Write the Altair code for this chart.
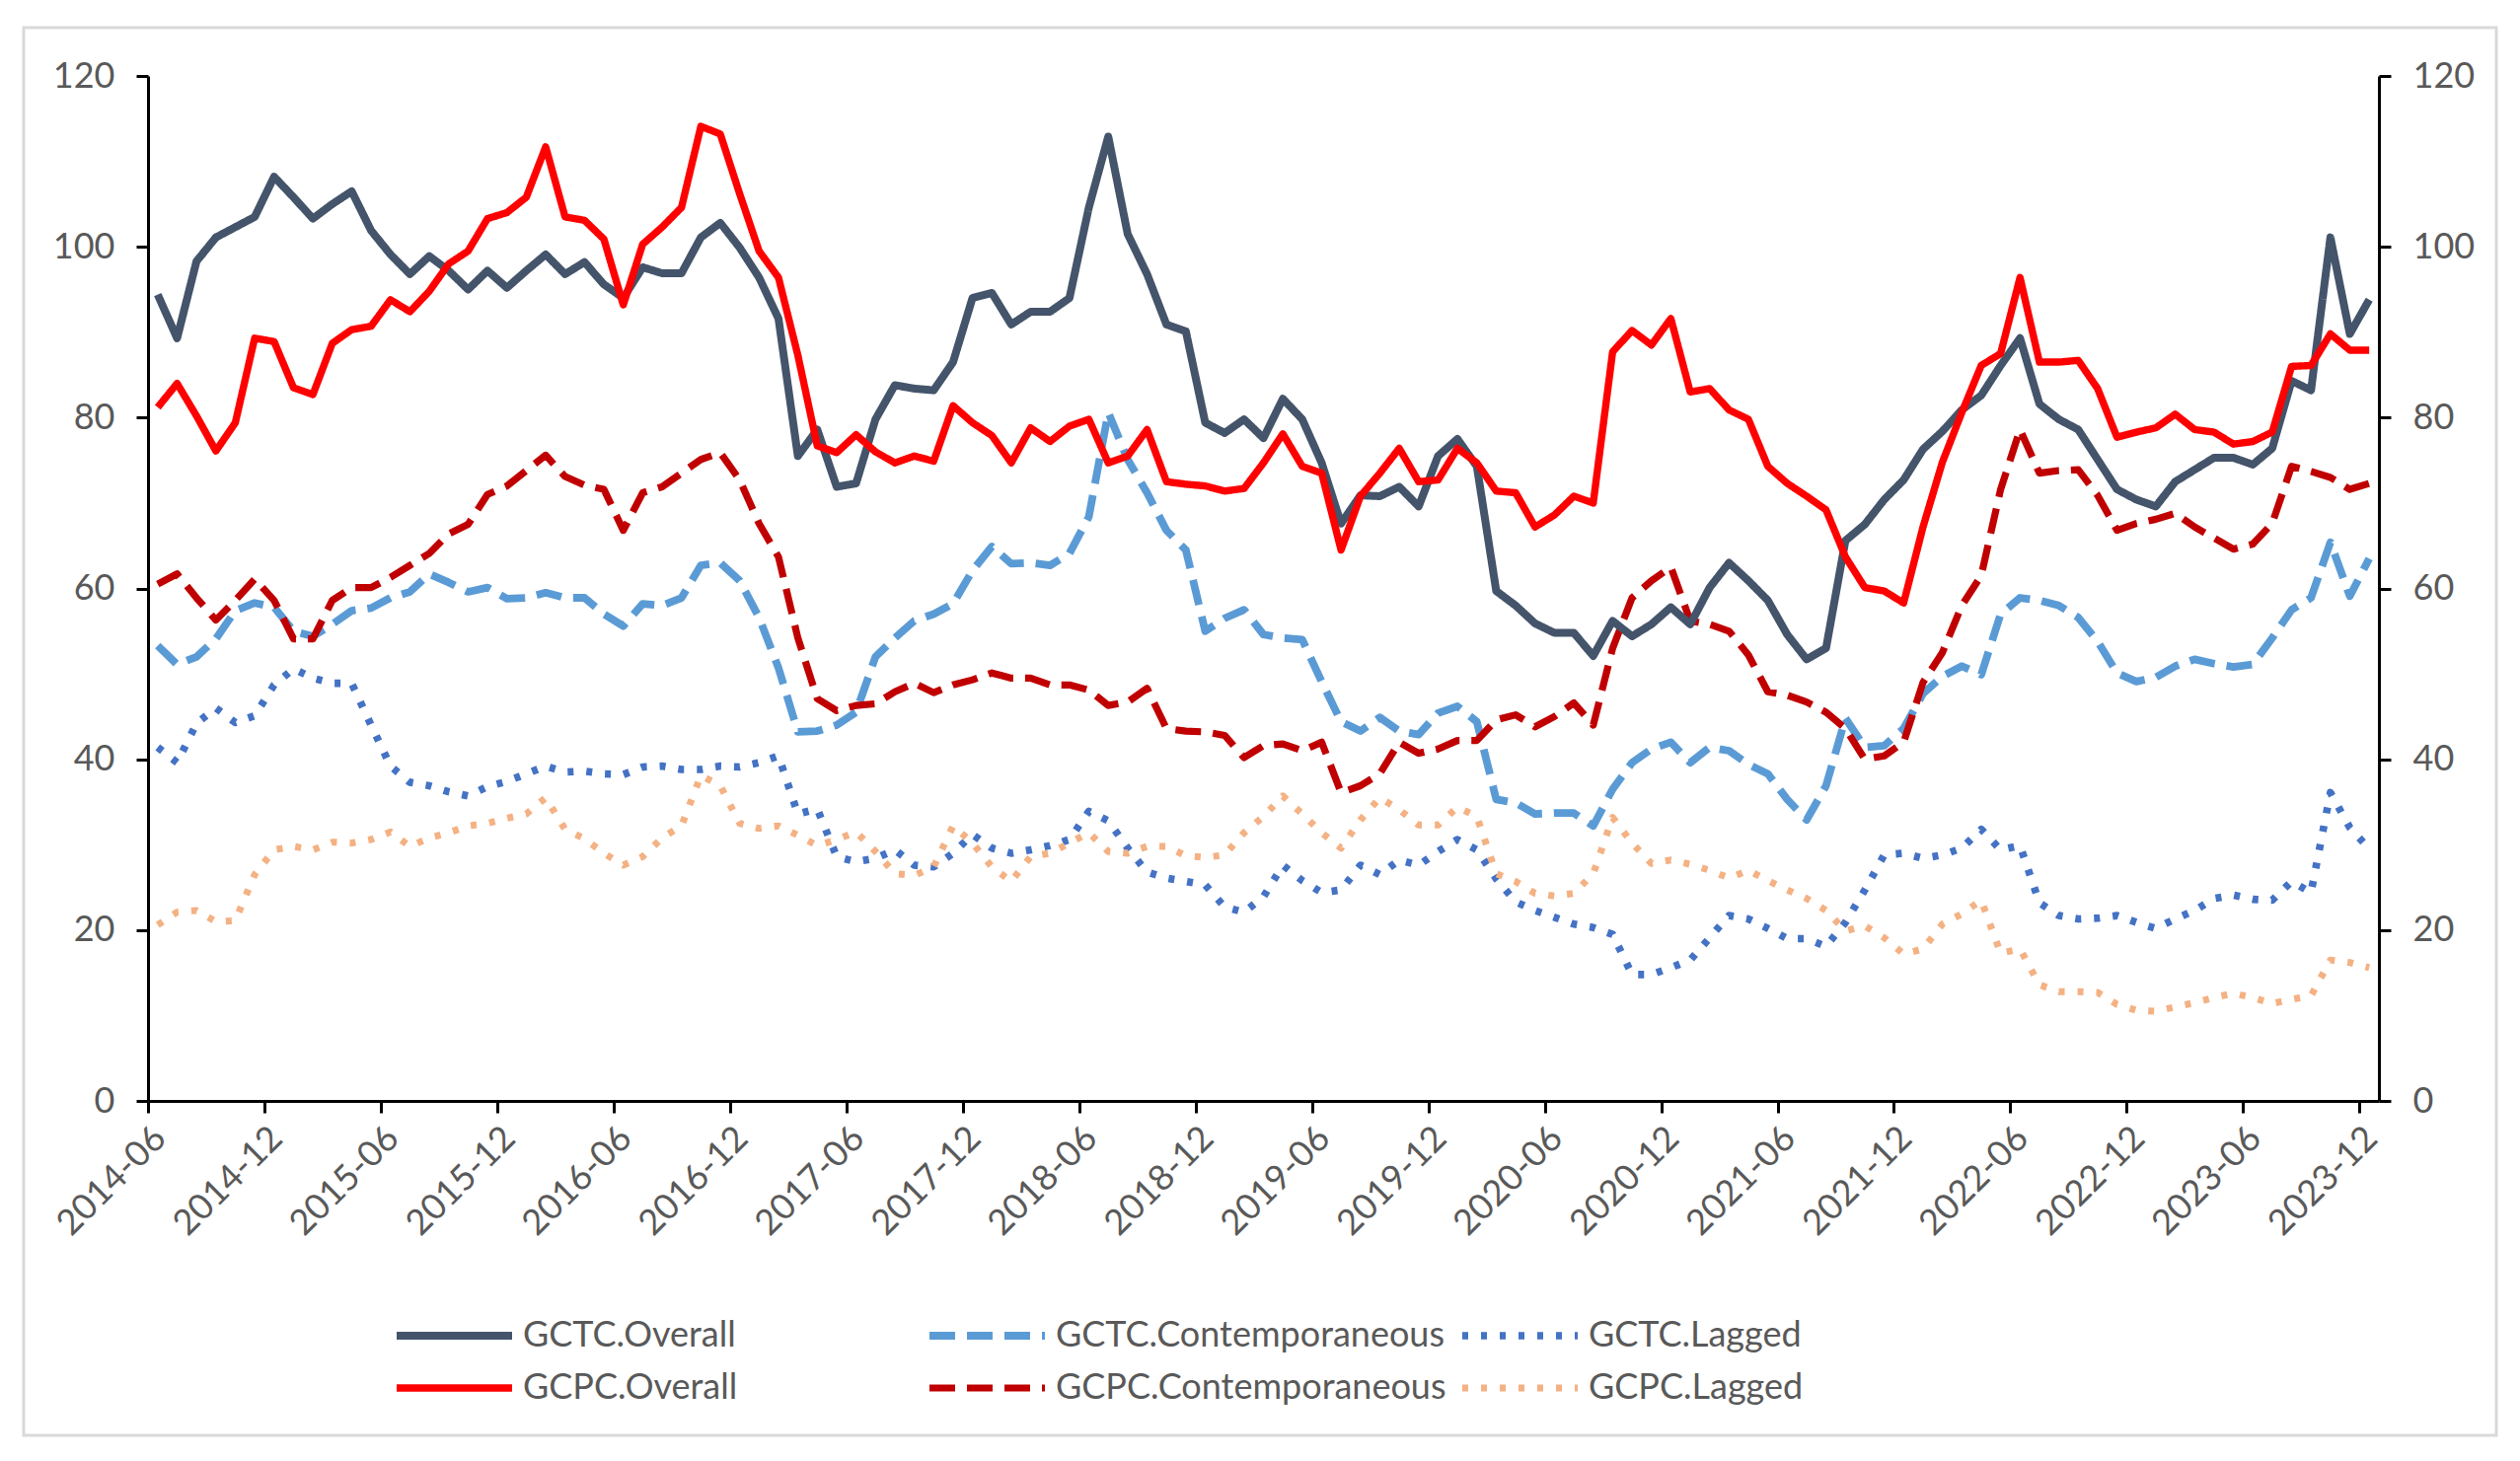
import json
import altair as alt
import pandas as pd

# ---------------- data ----------------
tick_labels = ["2014-06", "2014-12", "2015-06", "2015-12", "2016-06", "2016-12",
               "2017-06", "2017-12", "2018-06", "2018-12", "2019-06", "2019-12",
               "2020-06", "2020-12", "2021-06", "2021-12", "2022-06", "2022-12",
               "2023-06", "2023-12"]
months = pd.period_range("2014-06", "2023-12", freq="M").strftime("%Y-%m").tolist()

gctc_overall = [94.4, 89.3, 98.3, 101.1, 102.3, 103.5, 108.2, 105.8, 103.3, 105.0,
                106.5, 101.9, 99.1, 96.8, 98.9, 97.2, 95.0, 97.2, 95.2, 97.2,
                99.1, 96.8, 98.2, 95.6, 94.0, 97.6, 96.9, 96.9, 101.1, 102.8,
                99.9, 96.4, 91.6, 75.5, 78.6, 71.9, 72.3, 79.8, 83.8, 83.4,
                83.2, 86.5, 94.0, 94.6, 90.9, 92.4, 92.4, 94.0, 104.6, 112.9,
                101.5, 96.8, 90.9, 90.1, 79.4, 78.2, 79.8, 77.6, 82.2, 79.8,
                74.7, 67.6, 70.9, 70.8, 71.9, 69.6, 75.5, 77.5, 74.3, 59.7,
                58.0, 55.9, 54.8, 54.8, 52.1, 56.2, 54.4, 55.8, 57.8, 55.8,
                60.1, 63.0, 60.9, 58.6, 54.6, 51.7, 53.0, 65.6, 67.5, 70.4,
                72.7, 76.3, 78.4, 80.9, 82.6, 86.1, 89.3, 81.6, 79.8, 78.6,
                75.1, 71.6, 70.4, 69.6, 72.5, 73.9, 75.3, 75.3, 74.5, 76.4,
                84.3, 83.2, 101.1, 89.8, 93.8]

gcpc_overall = [81.2, 84.0, 80.2, 76.1, 79.4, 89.3, 88.9, 83.5, 82.7, 88.7,
                90.3, 90.7, 93.8, 92.4, 94.8, 98.0, 99.5, 103.3, 104.0, 105.8,
                111.7, 103.5, 103.1, 100.9, 93.2, 100.3, 102.3, 104.6, 114.1, 113.2,
                106.2, 99.5, 96.4, 87.3, 76.7, 75.9, 78.0, 76.0, 74.7, 75.5,
                74.9, 81.4, 79.4, 77.9, 74.7, 78.8, 77.2, 79.0, 79.8, 74.7,
                75.5, 78.6, 72.5, 72.2, 72.0, 71.4, 71.7, 74.7, 78.1, 74.3,
                73.5, 64.5, 70.8, 73.5, 76.4, 72.5, 72.7, 76.4, 74.7, 71.4,
                71.2, 67.2, 68.6, 70.8, 70.0, 87.7, 90.2, 88.5, 91.6, 83.0,
                83.4, 80.9, 79.8, 74.3, 72.3, 70.8, 69.2, 63.7, 60.1, 59.7,
                58.3, 67.2, 74.8, 80.6, 86.1, 87.5, 96.4, 86.5, 86.5, 86.7,
                83.4, 77.7, 78.3, 78.8, 80.4, 78.6, 78.3, 76.9, 77.2, 78.3,
                86.0, 86.1, 89.8, 87.9, 87.9]

gctc_contemp = [53.3, 51.1, 52.0, 54.1, 57.4, 58.3, 57.8, 55.0, 54.4, 55.8,
                57.4, 57.7, 58.9, 59.6, 61.7, 60.7, 59.6, 60.1, 58.8, 58.9,
                59.5, 58.9, 58.9, 57.0, 55.6, 58.2, 58.0, 58.9, 62.7, 63.0,
                60.9, 56.6, 50.7, 43.2, 43.3, 44.0, 45.5, 52.0, 54.2, 56.2,
                57.0, 58.2, 62.1, 64.9, 62.9, 63.0, 62.7, 64.1, 68.4, 80.6,
                75.1, 71.2, 66.8, 64.5, 55.0, 56.5, 57.5, 54.6, 54.2, 54.0,
                49.1, 44.4, 43.3, 44.9, 43.3, 42.9, 45.4, 46.2, 44.4, 35.3,
                34.9, 33.6, 33.7, 33.7, 32.2, 36.5, 39.6, 41.2, 42.0, 39.6,
                41.4, 41.0, 39.4, 38.3, 35.3, 32.9, 36.9, 44.8, 41.4, 41.6,
                43.6, 47.7, 49.7, 50.9, 49.9, 57.0, 58.9, 58.6, 58.0, 56.6,
                53.8, 50.1, 49.1, 49.6, 50.9, 51.7, 51.2, 50.8, 51.1, 54.2,
                57.5, 58.9, 65.4, 59.1, 63.5]

gcpc_contemp = [60.5, 61.7, 58.9, 56.3, 58.6, 61.1, 58.6, 54.1, 54.1, 58.6,
                60.1, 60.1, 61.3, 62.7, 64.1, 66.4, 67.5, 71.0, 72.0, 73.8,
                75.6, 73.1, 72.1, 71.6, 66.8, 71.2, 71.9, 73.5, 75.1, 75.9,
                72.7, 67.6, 63.7, 54.2, 47.1, 45.7, 46.3, 46.5, 47.9, 48.9,
                47.8, 48.7, 49.3, 50.1, 49.5, 49.5, 48.7, 48.7, 48.1, 46.3,
                46.7, 48.3, 43.6, 43.3, 43.2, 42.8, 40.2, 41.6, 41.8, 41.0,
                42.0, 36.1, 36.9, 38.3, 42.0, 40.7, 41.2, 42.2, 42.2, 44.6,
                45.2, 43.8, 45.0, 46.6, 44.0, 53.0, 58.9, 60.9, 62.5, 56.2,
                55.8, 55.0, 52.2, 47.9, 47.5, 46.7, 45.5, 43.6, 40.0, 40.4,
                42.0, 49.0, 52.5, 58.0, 61.5, 71.6, 78.6, 73.5, 73.8, 73.9,
                70.9, 66.8, 67.6, 68.1, 68.8, 67.2, 65.9, 64.6, 65.2, 67.6,
                74.3, 73.7, 73.0, 71.6, 72.3]

gctc_lagged = [41.4, 39.6, 44.2, 46.0, 44.3, 45.1, 48.7, 50.6, 49.5, 48.9,
               48.9, 44.0, 39.2, 37.3, 36.9, 36.2, 35.7, 36.8, 37.4, 38.3,
               39.2, 38.5, 38.6, 38.3, 38.2, 39.1, 39.2, 38.8, 38.8, 39.2,
               39.1, 39.6, 40.4, 33.6, 34.2, 28.6, 28.0, 28.4, 29.4, 27.6,
               27.4, 29.0, 31.2, 29.6, 29.0, 29.4, 29.9, 30.6, 33.9, 32.8,
               29.6, 26.8, 26.1, 25.7, 25.3, 22.7, 22.1, 23.9, 27.6, 25.8,
               24.4, 24.7, 27.6, 26.5, 28.2, 27.6, 29.2, 30.6, 29.4, 26.0,
               23.3, 22.3, 21.5, 20.7, 20.3, 19.5, 14.8, 14.8, 15.6, 16.5,
               19.1, 21.7, 21.3, 20.2, 19.0, 19.0, 18.1, 20.9, 24.7, 28.8,
               29.0, 28.4, 28.8, 29.6, 31.8, 29.4, 29.9, 23.2, 21.7, 21.3,
               21.4, 21.7, 20.9, 20.2, 21.3, 22.3, 23.7, 24.1, 23.6, 23.5,
               25.7, 24.4, 36.1, 32.0, 29.5]

gcpc_lagged = [20.6, 22.1, 22.3, 21.0, 21.1, 26.5, 29.4, 29.8, 29.4, 30.3,
               30.2, 30.6, 31.5, 29.8, 30.8, 31.4, 32.2, 32.5, 33.1, 33.6,
               35.5, 31.8, 30.7, 29.0, 27.6, 28.6, 30.8, 32.2, 38.1, 36.9,
               32.5, 31.9, 32.2, 31.1, 29.9, 30.6, 31.5, 29.2, 26.6, 26.4,
               27.4, 32.2, 30.2, 27.4, 25.7, 28.6, 29.0, 30.2, 31.4, 29.2,
               29.0, 29.8, 29.8, 28.7, 28.5, 28.8, 31.4, 33.3, 35.7, 33.6,
               31.4, 29.6, 32.9, 35.5, 34.1, 32.3, 32.3, 34.4, 33.3, 26.6,
               25.7, 24.3, 24.0, 24.3, 26.6, 33.2, 30.2, 27.8, 28.2, 27.7,
               27.0, 26.1, 27.0, 25.8, 24.7, 23.7, 22.3, 19.9, 20.5, 19.1,
               17.2, 17.8, 20.7, 21.9, 23.5, 17.3, 17.8, 13.6, 12.8, 12.8,
               12.7, 11.3, 10.6, 10.5, 11.0, 11.5, 12.1, 12.6, 12.1, 11.4,
               11.9, 12.3, 16.5, 16.2, 15.6]

series_names = ["GCTC.Overall", "GCTC.Contemporaneous", "GCTC.Lagged",
                "GCPC.Overall", "GCPC.Contemporaneous", "GCPC.Lagged"]
series_colors = ["#44546A", "#5B9BD5", "#4472C4", "#FF0000", "#C00000", "#F4B183"]
series_dash = [[1, 0], [26, 12], [6, 13], [1, 0], [26, 12], [6, 13]]
series_width = [8, 7, 6, 8, 7, 6]

series_values = {
    "GCTC.Overall": gctc_overall,
    "GCTC.Contemporaneous": gctc_contemp,
    "GCTC.Lagged": gctc_lagged,
    "GCPC.Overall": gcpc_overall,
    "GCPC.Contemporaneous": gcpc_contemp,
    "GCPC.Lagged": gcpc_lagged,
}
draw_order = ["GCTC.Lagged", "GCPC.Lagged", "GCTC.Contemporaneous",
              "GCPC.Contemporaneous", "GCTC.Overall", "GCPC.Overall"]

rows = []
for name in draw_order:
    for i, v in enumerate(series_values[name]):
        rows.append({"series": name, "month": months[i], "pos": i + 0.5, "value": v})
df = pd.DataFrame(rows)

# ---------------- styling ----------------
FONT = "Lato, Liberation Sans Narrow, DejaVu Sans Condensed, sans-serif"
LABEL_COLOR = "#595959"
FS = 36

label_expr = json.dumps(tick_labels) + "[round(datum.value / 6)]"

x_enc = alt.X(
    "pos:Q",
    scale=alt.Scale(domain=[0, len(months)], nice=False, zero=False),
    axis=alt.Axis(values=list(range(0, len(months), 6)), labelExpr=label_expr,
                  labelAngle=-45, labelAlign="right", labelBaseline="top",
                  labelPadding=8, labelOverlap=False, labelFont=FONT,
                  labelFontSize=FS, labelColor=LABEL_COLOR, tickSize=12,
                  tickWidth=3, tickColor="black", domainColor="black",
                  domainWidth=3, grid=False, title=None),
)

y_scale = alt.Scale(domain=[0, 120], nice=False, zero=True)


def y_axis(orient):
    return alt.Axis(orient=orient, values=[0, 20, 40, 60, 80, 100, 120],
                    labelFont=FONT, labelFontSize=FS, labelColor=LABEL_COLOR,
                    labelPadding=22, tickSize=12, tickWidth=3, tickColor="black",
                    domainColor="black", domainWidth=3, grid=False, title=None)


legend = alt.Legend(
    title=None, orient="none", legendX=244, legendY=1259, columns=3,
    direction="horizontal", gridAlign="all", columnPadding=0, rowPadding=17,
    symbolType="M-1,0H10.7", symbolSize=400, symbolStrokeWidth=8,
    labelFont=FONT, labelFontSize=FS, labelColor=LABEL_COLOR, labelOffset=100,
    labelLimit=0, padding=0,
)

lines = alt.Chart(df).mark_line(strokeJoin="round").encode(
    x=x_enc,
    y=alt.Y("value:Q", scale=y_scale, axis=y_axis("left")),
    color=alt.Color("series:N", scale=alt.Scale(domain=series_names, range=series_colors),
                    legend=legend),
    strokeDash=alt.StrokeDash("series:N",
                              scale=alt.Scale(domain=series_names, range=series_dash)),
    strokeWidth=alt.StrokeWidth("series:N",
                                scale=alt.Scale(domain=series_names, range=series_width),
                                legend=None),
)

right_axis = alt.Chart(df).mark_line(opacity=0).encode(
    x=x_enc,
    y=alt.Y("value:Q", scale=y_scale, axis=y_axis("right")),
    detail="series:N",
)

frame = alt.Chart(alt.Data(values=[{}])).mark_rect(
    fillOpacity=0, stroke="#D9D9D9", strokeWidth=3
).encode(
    x=alt.value(-126), x2=alt.value(2380), y=alt.value(-49), y2=alt.value(1378)
)

chart = alt.layer(frame, lines, right_axis).resolve_axis(y="independent").properties(
    width=2261, height=1039,
    padding={"left": 142, "top": 69, "right": 129, "bottom": 349},
    autosize=alt.AutoSizeParams(type="none"),
    background="white",
).configure_view(stroke=None)

chart.save("out.html", embed_options={"renderer": "svg", "actions": False})
